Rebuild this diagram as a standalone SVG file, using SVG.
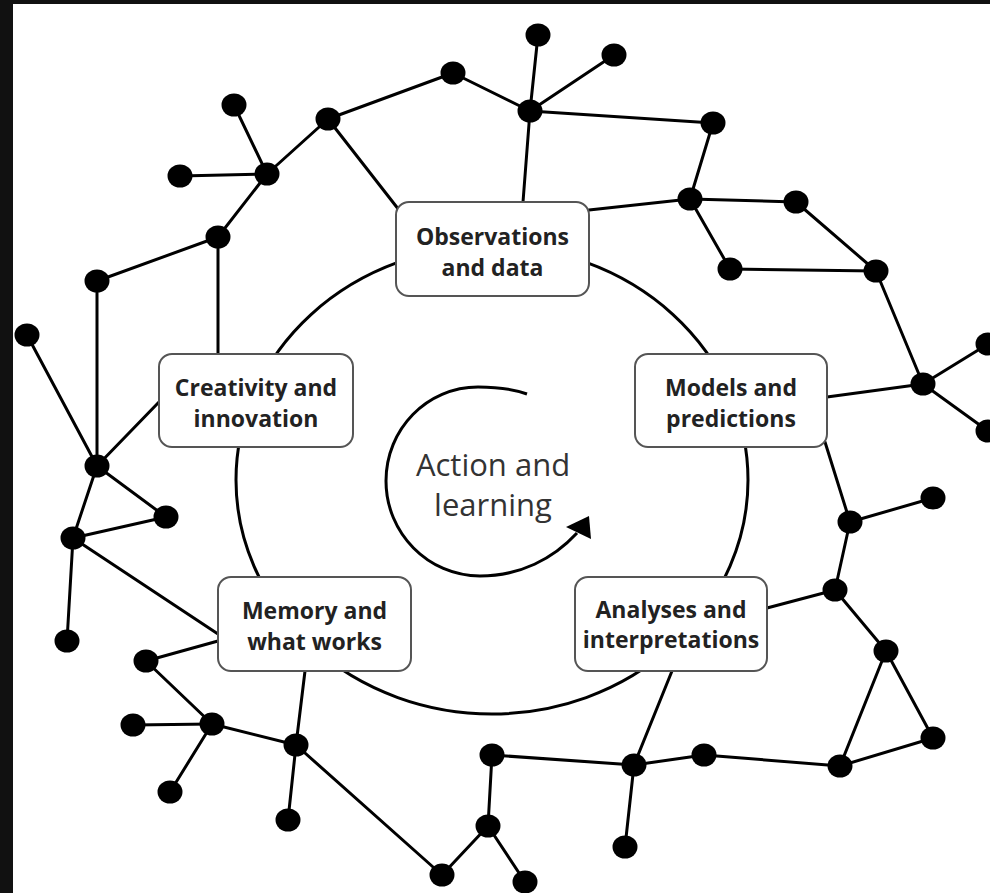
<svg xmlns="http://www.w3.org/2000/svg" width="990" height="893" viewBox="0 0 990 893">
<style>
.e{stroke:#000;stroke-width:3;fill:none;stroke-linecap:round}
.d{fill:#000}
.box{fill:#fff;stroke:#555;stroke-width:2}
.bt{font-family:"Open Sans","Liberation Sans",sans-serif;font-weight:bold;font-size:23px;fill:#222;text-anchor:middle}
.ct{font-family:"Open Sans","Liberation Sans",sans-serif;font-size:31px;fill:#333;text-anchor:middle}
</style>
<rect x="0" y="0" width="990" height="893" fill="#111"/>
<rect x="13" y="4" width="977" height="889" fill="#fff"/>
<ellipse cx="492" cy="480" rx="256" ry="234" fill="none" stroke="#000" stroke-width="3"/>
<g id="connectors" class="e">
<line x1="234" y1="105" x2="267" y2="174"/>
<line x1="180" y1="176" x2="267" y2="174"/>
<line x1="267" y1="174" x2="328" y2="119"/>
<line x1="267" y1="174" x2="218" y2="237"/>
<line x1="218" y1="237" x2="97" y2="281"/>
<line x1="218" y1="237" x2="218" y2="354"/>
<line x1="328" y1="119" x2="453" y2="73"/>
<line x1="453" y1="73" x2="530" y2="111"/>
<line x1="530" y1="111" x2="538" y2="35"/>
<line x1="530" y1="111" x2="614" y2="55"/>
<line x1="530" y1="111" x2="523" y2="202"/>
<line x1="328" y1="119" x2="399" y2="210"/>
<line x1="530" y1="111" x2="713" y2="123"/>
<line x1="713" y1="123" x2="690" y2="199"/>
<line x1="690" y1="199" x2="589" y2="210"/>
<line x1="690" y1="199" x2="796" y2="202"/>
<line x1="690" y1="199" x2="730" y2="269"/>
<line x1="796" y1="202" x2="876" y2="271"/>
<line x1="730" y1="269" x2="876" y2="271"/>
<line x1="876" y1="271" x2="923" y2="384"/>
<line x1="923" y1="384" x2="988" y2="344"/>
<line x1="923" y1="384" x2="988" y2="431"/>
<line x1="923" y1="384" x2="827" y2="397"/>
<line x1="825" y1="442" x2="850" y2="522"/>
<line x1="850" y1="522" x2="933" y2="498"/>
<line x1="850" y1="522" x2="835" y2="590"/>
<line x1="835" y1="590" x2="767" y2="608"/>
<line x1="835" y1="590" x2="886" y2="651"/>
<line x1="886" y1="651" x2="840" y2="766"/>
<line x1="886" y1="651" x2="933" y2="738"/>
<line x1="933" y1="738" x2="840" y2="766"/>
<line x1="840" y1="766" x2="704" y2="755"/>
<line x1="704" y1="755" x2="634" y2="765"/>
<line x1="634" y1="765" x2="492" y2="755"/>
<line x1="634" y1="765" x2="625" y2="847"/>
<line x1="634" y1="765" x2="672" y2="671"/>
<line x1="492" y1="755" x2="488" y2="826"/>
<line x1="488" y1="826" x2="442" y2="875"/>
<line x1="488" y1="826" x2="525" y2="882"/>
<line x1="442" y1="875" x2="296" y2="745"/>
<line x1="296" y1="745" x2="305" y2="671"/>
<line x1="296" y1="745" x2="288" y2="820"/>
<line x1="296" y1="745" x2="212" y2="724"/>
<line x1="212" y1="724" x2="133" y2="725"/>
<line x1="212" y1="724" x2="170" y2="792"/>
<line x1="212" y1="724" x2="146" y2="661"/>
<line x1="146" y1="661" x2="218" y2="641"/>
<line x1="73" y1="538" x2="218" y2="634"/>
<line x1="73" y1="538" x2="67" y2="641"/>
<line x1="73" y1="538" x2="97" y2="466"/>
<line x1="73" y1="538" x2="166" y2="517"/>
<line x1="166" y1="517" x2="97" y2="466"/>
<line x1="97" y1="466" x2="27" y2="335"/>
<line x1="97" y1="466" x2="97" y2="281"/>
<line x1="97" y1="466" x2="159" y2="402"/>
</g>
<g id="dots" class="d">
<ellipse cx="234" cy="105" rx="12.5" ry="11.5"/>
<ellipse cx="328" cy="119" rx="12.5" ry="11.5"/>
<ellipse cx="180" cy="176" rx="12.5" ry="11.5"/>
<ellipse cx="267" cy="174" rx="12.5" ry="11.5"/>
<ellipse cx="218" cy="237" rx="12.5" ry="11.5"/>
<ellipse cx="97" cy="281" rx="12.5" ry="11.5"/>
<ellipse cx="453" cy="73" rx="12.5" ry="11.5"/>
<ellipse cx="538" cy="35" rx="12.5" ry="11.5"/>
<ellipse cx="614" cy="55" rx="12.5" ry="11.5"/>
<ellipse cx="530" cy="111" rx="12.5" ry="11.5"/>
<ellipse cx="713" cy="123" rx="12.5" ry="11.5"/>
<ellipse cx="690" cy="199" rx="12.5" ry="11.5"/>
<ellipse cx="796" cy="202" rx="12.5" ry="11.5"/>
<ellipse cx="730" cy="269" rx="12.5" ry="11.5"/>
<ellipse cx="876" cy="271" rx="12.5" ry="11.5"/>
<ellipse cx="923" cy="384" rx="12.5" ry="11.5"/>
<ellipse cx="988" cy="344" rx="12.5" ry="11.5"/>
<ellipse cx="988" cy="431" rx="12.5" ry="11.5"/>
<ellipse cx="850" cy="522" rx="12.5" ry="11.5"/>
<ellipse cx="933" cy="498" rx="12.5" ry="11.5"/>
<ellipse cx="835" cy="590" rx="12.5" ry="11.5"/>
<ellipse cx="886" cy="651" rx="12.5" ry="11.5"/>
<ellipse cx="933" cy="738" rx="12.5" ry="11.5"/>
<ellipse cx="840" cy="766" rx="12.5" ry="11.5"/>
<ellipse cx="704" cy="755" rx="12.5" ry="11.5"/>
<ellipse cx="634" cy="765" rx="12.5" ry="11.5"/>
<ellipse cx="625" cy="847" rx="12.5" ry="11.5"/>
<ellipse cx="492" cy="755" rx="12.5" ry="11.5"/>
<ellipse cx="488" cy="826" rx="12.5" ry="11.5"/>
<ellipse cx="442" cy="875" rx="12.5" ry="11.5"/>
<ellipse cx="525" cy="882" rx="12.5" ry="11.5"/>
<ellipse cx="296" cy="745" rx="12.5" ry="11.5"/>
<ellipse cx="288" cy="820" rx="12.5" ry="11.5"/>
<ellipse cx="212" cy="724" rx="12.5" ry="11.5"/>
<ellipse cx="133" cy="725" rx="12.5" ry="11.5"/>
<ellipse cx="170" cy="792" rx="12.5" ry="11.5"/>
<ellipse cx="146" cy="661" rx="12.5" ry="11.5"/>
<ellipse cx="67" cy="641" rx="12.5" ry="11.5"/>
<ellipse cx="73" cy="538" rx="12.5" ry="11.5"/>
<ellipse cx="166" cy="517" rx="12.5" ry="11.5"/>
<ellipse cx="97" cy="466" rx="12.5" ry="11.5"/>
<ellipse cx="27" cy="335" rx="12.5" ry="11.5"/>
</g>
<g id="observations">
<rect class="box" x="396" y="202" width="193" height="94" rx="13"/>
<text class="bt" x="492.5" y="245">Observations</text>
<text class="bt" x="492.5" y="276">and data</text>
</g>
<g id="creativity">
<rect class="box" x="159" y="354" width="194" height="93" rx="13"/>
<text class="bt" x="256" y="396">Creativity and</text>
<text class="bt" x="256" y="427">innovation</text>
</g>
<g id="models">
<rect class="box" x="635" y="354" width="192" height="93" rx="13"/>
<text class="bt" x="731" y="396">Models and</text>
<text class="bt" x="731" y="427">predictions</text>
</g>
<g id="memory">
<rect class="box" x="218" y="577" width="193" height="94" rx="13"/>
<text class="bt" x="314.5" y="619">Memory and</text>
<text class="bt" x="314.5" y="650">what works</text>
</g>
<g id="analyses">
<rect class="box" x="575" y="577" width="192" height="94" rx="13"/>
<text class="bt" x="671" y="618">Analyses and</text>
<text class="bt" x="671" y="648">interpretations</text>
</g>
<g id="center">
<path d="M527 394 C513 389 495 387 478 387 C427 387 386 429 386 481 C386 533 428 576 480 576 C520 576 553 559 577 533" fill="none" stroke="#000" stroke-width="3"/>
<polygon points="589,516 566,527 591,539" fill="#000"/>
<text class="ct" x="493" y="476">Action and</text>
<text class="ct" x="493" y="516">learning</text>
</g>
</svg>
